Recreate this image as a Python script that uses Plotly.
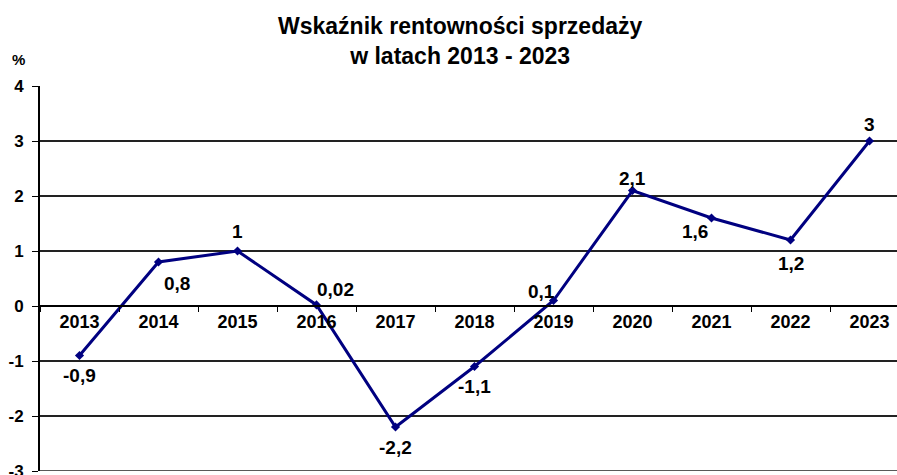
import plotly.graph_objects as go

years = ["2013", "2014", "2015", "2016", "2017", "2018", "2019", "2020", "2021", "2022", "2023"]
values = [-0.9, 0.8, 1.0, 0.02, -2.2, -1.1, 0.1, 2.1, 1.6, 1.2, 3.0]
labels = ["-0,9", "0,8", "1", "0,02", "-2,2", "-1,1", "0,1", "2,1", "1,6", "1,2", "3"]
y_ticks = [-3, -2, -1, 0, 1, 2, 3, 4]

# label offsets in pixels (style only)
offsets = [(0, -20), (18, -21), (0, 20), (19, 15), (0, -20), (0, -20), (-12, 9), (0, 12), (-17, -13), (0, -23), (0, 17)]

FONT = "Liberation Sans, Arial, sans-serif"

fig = go.Figure()
fig.add_trace(go.Scatter(
    x=years, y=values, mode="lines+markers",
    line=dict(color="#000080", width=3),
    marker=dict(symbol="diamond", size=7, color="#000080"),
    hoverinfo="skip", showlegend=False,
))

for i, (yv, lab, (dx, dy)) in enumerate(zip(values, labels, offsets)):
    fig.add_annotation(x=i, y=yv, xref="x", yref="y", text="<b>%s</b>" % lab, showarrow=False,
                       xshift=dx, yshift=dy,
                       font=dict(family=FONT, size=19, color="black"))

fig.add_annotation(xref="paper", yref="paper", x=-0.025, y=1.068, text="<b>%</b>",
                   showarrow=False, xanchor="center", yanchor="middle",
                   font=dict(family=FONT, size=15, color="black"))

# bottom gridline (at lowest tick)
fig.add_shape(type="line", xref="paper", yref="y", x0=0, x1=1, y0=min(y_ticks), y1=min(y_ticks),
              line=dict(color="#222222", width=1.5), layer="below")

L, R, T, B = 40, 0, 86, 4
W = 897 - L - R
span = 79.0
xmax = -0.5 + W / span

fig.update_layout(
    width=897, height=475,
    margin=dict(l=L, r=R, t=T, b=B, autoexpand=False),
    paper_bgcolor="white", plot_bgcolor="white",
    title=dict(text="<b>Wskaźnik rentowności sprzedaży<br>w latach 2013 - 2023</b>",
               x=0.513, xanchor="center", y=0.929, yanchor="middle",
               font=dict(family=FONT, size=23, color="black")),
    xaxis=dict(type="category", range=[-0.5, xmax], anchor="free", automargin=False,
               position=3/7, showline=True, linecolor="black", linewidth=1.5,
               ticks="outside", ticklen=5, tickcolor="black", tickwidth=1,
               tickson="boundaries", showgrid=False, zeroline=False,
               tickfont=dict(family=FONT, size=18, color="black", weight="bold")),
    yaxis=dict(range=[-3, 4], tickvals=y_ticks, ticktext=[str(v) for v in y_ticks],
               automargin=False, ticklabelstandoff=5, ticklabeloverflow="allow",
               showline=True, linecolor="black", linewidth=2,
               ticks="outside", ticklen=6, tickcolor="black",
               showgrid=True, gridcolor="#222222", gridwidth=1.5,
               zeroline=False,
               tickfont=dict(family=FONT, size=17, color="black", weight="bold")),
)

fig.write_html("out.html", config={"displayModeBar": False},
               post_script="document.body.style.margin='0';document.body.style.overflow='hidden';")
